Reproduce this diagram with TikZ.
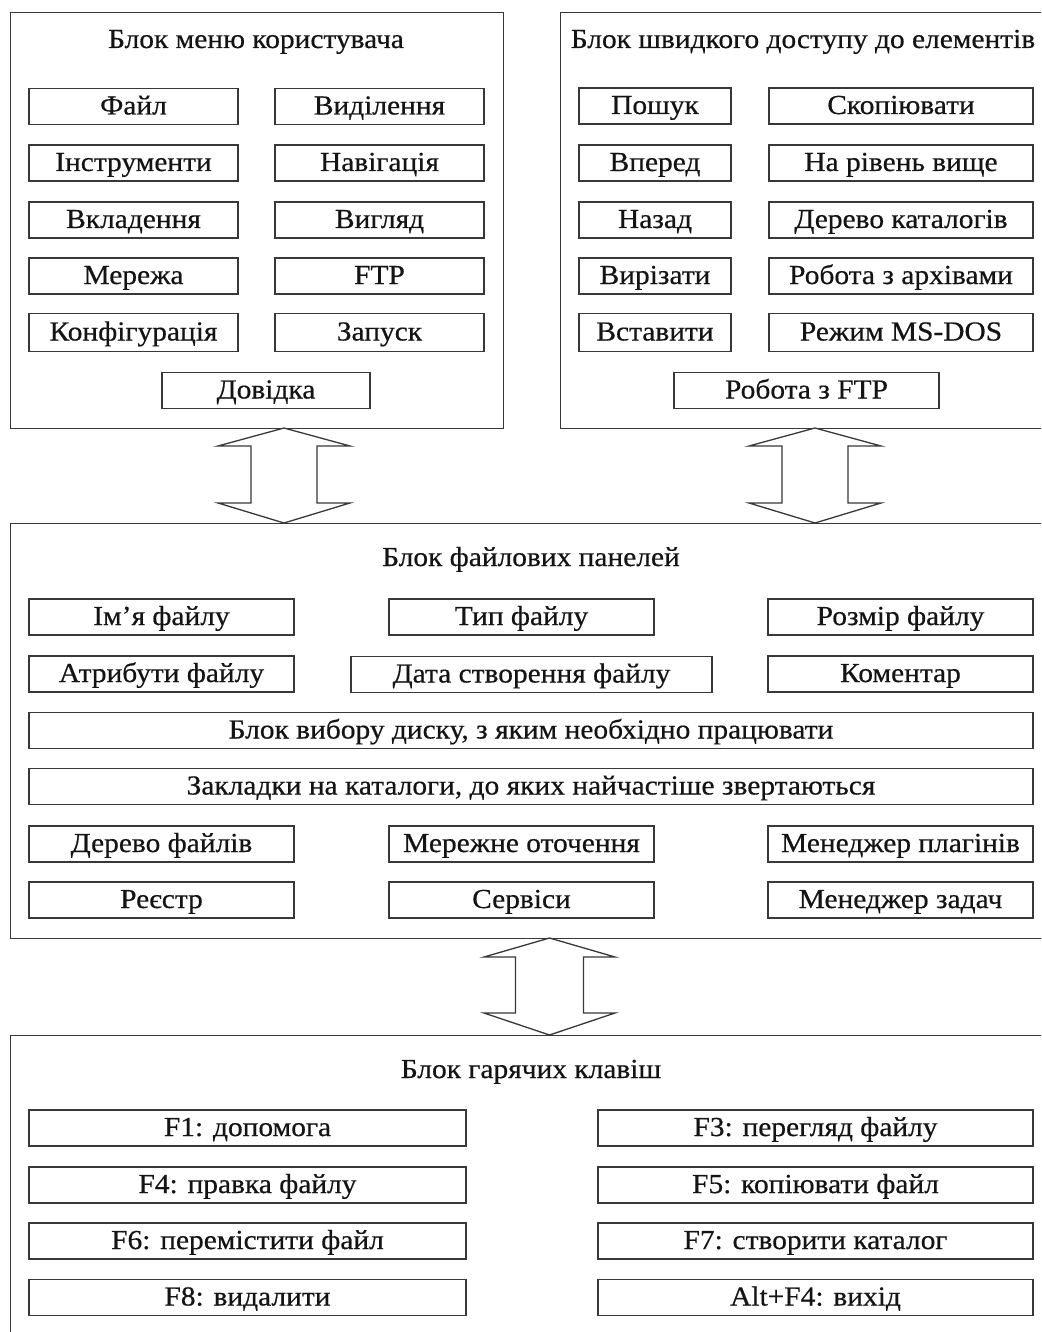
\documentclass[tikz,border=0pt]{standalone}
\usepackage{fontspec}
\setmainfont[FakeStretch=1.07,FakeBold=0.5]{Liberation Serif}
\definecolor{lc}{gray}{0.22}
\definecolor{tc}{gray}{0.08}
\newcommand{\blockUDarrow}[7]{% cx, ytop, ywing1, ywing2, ybot, wing half, shaft half
  \draw[bigarrow] (#1,#2) -- ({#1+#6},#3) -- ({#1+#7},#3) -- ({#1+#7},#4) -- ({#1+#6},#4)
    -- (#1,#5) -- ({#1-#6},#4) -- ({#1-#7},#4) -- ({#1-#7},#3) -- ({#1-#6},#3) -- cycle;}
\begin{document}
\begin{tikzpicture}[x=1pt,y=-1pt,
  blk/.style={draw=lc, line width=1.3pt, inner sep=0pt, anchor=north west},
  bx/.style={draw=lc, line width=1.3pt, minimum height=36pt, inner sep=0pt,
    text height=21pt, text depth=5pt, font=\fontsize{27.5}{32}\selectfont, text=tc},
  ttl/.style={anchor=base, inner sep=0pt, font=\fontsize{27.5}{32}\selectfont, text=tc},
  bigarrow/.style={draw=lc, line width=1.3pt, fill=white, line join=miter}]
\clip (0,0) rectangle (1041,1332);
\fill[white] (0,0) rectangle (1041,1332);

% ---------- outer blocks ----------
\node[blk, minimum width=493pt, minimum height=416pt] (menu) at (10,12) {};
\node[blk, minimum width=490pt, minimum height=416pt] (quick) at (560,12) {};
\node[blk, minimum width=1040pt, minimum height=415pt] (panels) at (10,523) {};
\node[blk, minimum width=1040pt, minimum height=310pt] (keys) at (10,1035) {};

% ---------- menu block ----------
\node[ttl] (tmenu) at (256,48) {Блок меню користувача};
\node[bx, minimum width=209pt] (m1) at (133.5,106.5) {Файл};
\node[bx, minimum width=209pt] (m2) at (379.5,106.5) {Виділення};
\node[bx, minimum width=209pt] (m3) at (133.5,163) {Інструменти};
\node[bx, minimum width=209pt] (m4) at (379.5,163) {Навігація};
\node[bx, minimum width=209pt] (m5) at (133.5,220) {Вкладення};
\node[bx, minimum width=209pt] (m6) at (379.5,220) {Вигляд};
\node[bx, minimum width=209pt] (m7) at (133.5,276) {Мережа};
\node[bx, minimum width=209pt] (m8) at (379.5,276) {FTP};
\node[bx, minimum width=209pt, minimum height=38pt] (m9) at (133.5,332.5) {Конфігурація};
\node[bx, minimum width=209pt, minimum height=38pt] (m10) at (379.5,332.5) {Запуск};
\node[bx, minimum width=208pt] (m11) at (266,390.5) {Довідка};

% ---------- quick access block ----------
\node[ttl] (tquick) at (803,48) {Блок швидкого доступу до елементів};
\node[bx, minimum width=152pt] (q1) at (655,106) {Пошук};
\node[bx, minimum width=264pt] (q2) at (901,106) {Скопіювати};
\node[bx, minimum width=152pt] (q3) at (655,163) {Вперед};
\node[bx, minimum width=264pt] (q4) at (901,163) {На рівень вище};
\node[bx, minimum width=152pt] (q5) at (655,220) {Назад};
\node[bx, minimum width=264pt] (q6) at (901,220) {Дерево каталогів};
\node[bx, minimum width=152pt] (q7) at (655,276) {Вирізати};
\node[bx, minimum width=264pt] (q8) at (901,276) {Робота з архівами};
\node[bx, minimum width=152pt, minimum height=38pt] (q9) at (655,332.5) {Вставити};
\node[bx, minimum width=264pt, minimum height=38pt] (q10) at (901,332.5) {Режим MS-DOS};
\node[bx, minimum width=265pt] (q11) at (806.5,390.5) {Робота з FTP};

% ---------- file panels block ----------
\node[ttl] (tpanels) at (531,566) {Блок файлових панелей};
\node[bx, minimum width=265pt] (p1) at (161.5,617) {Ім’я файлу};
\node[bx, minimum width=265pt] (p2) at (521.5,617) {Тип файлу};
\node[bx, minimum width=265pt] (p3) at (900.5,617) {Розмір файлу};
\node[bx, minimum width=265pt] (p4) at (161.5,674) {Атрибути файлу};
\node[bx, minimum width=361pt] (p5) at (531.5,674.5) {Дата створення файлу};
\node[bx, minimum width=265pt] (p6) at (900.5,674) {Коментар};
\node[bx, minimum width=1004pt] (p7) at (531,730.5) {Блок вибору диску, з яким необхідно працювати};
\node[bx, minimum width=1004pt] (p8) at (531,786.5) {Закладки на каталоги, до яких найчастіше звертаються};
\node[bx, minimum width=265pt] (p9) at (161.5,844) {Дерево файлів};
\node[bx, minimum width=265pt] (p10) at (521.5,844) {Мережне оточення};
\node[bx, minimum width=265pt] (p11) at (900.5,844) {Менеджер плагінів};
\node[bx, minimum width=265pt] (p12) at (161.5,900) {Реєстр};
\node[bx, minimum width=265pt] (p13) at (521.5,900) {Сервіси};
\node[bx, minimum width=265pt] (p14) at (900.5,900) {Менеджер задач};

% ---------- hot keys block ----------
\node[ttl] (tkeys) at (531,1078) {Блок гарячих клавіш};
\node[bx, minimum width=437pt] (k1) at (247.5,1128) {F1: допомога};
\node[bx, minimum width=435pt] (k2) at (815.5,1128) {F3: перегляд файлу};
\node[bx, minimum width=437pt] (k3) at (247.5,1185) {F4: правка файлу};
\node[bx, minimum width=435pt] (k4) at (815.5,1185) {F5: копіювати файл};
\node[bx, minimum width=437pt] (k5) at (247.5,1241) {F6: перемістити файл};
\node[bx, minimum width=435pt] (k6) at (815.5,1241) {F7: створити каталог};
\node[bx, minimum width=437pt] (k7) at (247.5,1297.5) {F8: видалити};
\node[bx, minimum width=435pt] (k8) at (815.5,1297.5) {Alt+F4: вихід};

% ---------- double arrows ----------
\blockUDarrow{284}{428}{446}{503}{523}{66}{33}
\blockUDarrow{815}{428}{446}{503}{523}{66}{33}
\blockUDarrow{549.5}{938}{957}{1013}{1035}{65.5}{34}
\end{tikzpicture}
\end{document}
